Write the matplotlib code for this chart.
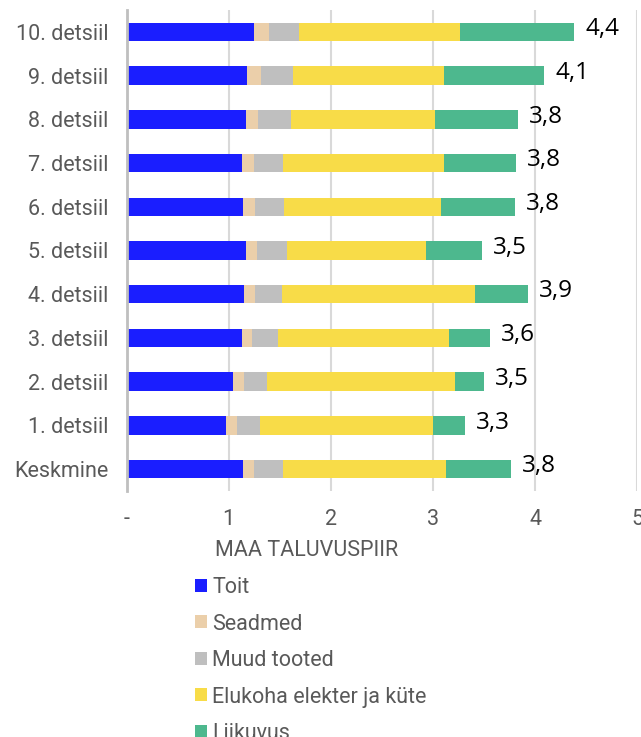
import matplotlib
matplotlib.use("Agg")
import matplotlib.pyplot as plt
import numpy as np

categories = ["Keskmine", "1. detsiil", "2. detsiil", "3. detsiil", "4. detsiil",
              "5. detsiil", "6. detsiil", "7. detsiil", "8. detsiil", "9. detsiil", "10. detsiil"]
toit     = [1.14, 0.97, 1.04, 1.13, 1.15, 1.17, 1.14, 1.13, 1.17, 1.18, 1.25]
seadmed  = [0.11, 0.11, 0.11, 0.10, 0.11, 0.11, 0.12, 0.12, 0.12, 0.14, 0.14]
muud     = [0.28, 0.23, 0.23, 0.25, 0.26, 0.29, 0.28, 0.28, 0.32, 0.31, 0.30]
elukoha  = [1.60, 1.69, 1.84, 1.68, 1.89, 1.36, 1.54, 1.58, 1.41, 1.48, 1.57]
liikuvus = [0.63, 0.31, 0.28, 0.40, 0.52, 0.55, 0.72, 0.70, 0.81, 0.98, 1.12]
total_labels = ["3,8", "3,3", "3,5", "3,6", "3,9", "3,5", "3,8", "3,8", "3,8", "4,1", "4,4"]
series_names = ["Toit", "Seadmed", "Muud tooted", "Elukoha elekter ja küte", "Liikuvus"]
xtick_vals = [0, 1, 2, 3, 4, 5]
xtick_labels = ["-", "1", "2", "3", "4", "5"]
legend_title = "MAA TALUVUSPIIR"

colors = ["#1a1eff", "#ebcfaa", "#bfbfbf", "#f8dc48", "#4db88e"]
series = [toit, seadmed, muud, elukoha, liikuvus]

plt.rcParams['font.family'] = ['Roboto', 'DejaVu Sans']
fig = plt.figure(figsize=(6.41, 7.37), dpi=100)
W, H = 641, 737
ax = fig.add_axes([126.5 / W, 1 - 491 / H, 510.8 / W, 481 / H])

y = np.arange(len(categories))
left = np.zeros(len(categories))
handles = []
for vals, c, name in zip(series, colors, series_names):
    b = ax.barh(y, vals, left=left, height=0.42, color=c, label=name, zorder=3)
    handles.append(b)
    left = left + np.array(vals)

for yi, tot, lab in zip(y, left, total_labels):
    ax.annotate(lab, (tot, yi), xytext=(8, 2), textcoords="offset points",
                ha="left", va="center", fontsize=17.5, family=['Open Sans', 'DejaVu Sans'],
                color="black")

ax.set_xlim(0, 5)
ax.set_ylim(-0.5, len(categories) - 0.5)
ax.set_yticks(y)
ax.set_yticklabels(categories, fontsize=15.5, color="#595959")
ax.set_xticks(xtick_vals)
ax.set_xticklabels(xtick_labels, fontsize=15.5, color="#595959")
ax.tick_params(axis="y", length=0, pad=13)
ax.tick_params(axis="x", length=0, pad=13)
ax.grid(axis="x", color="#d9d9d9", linewidth=1.5, zorder=0)
ax.set_axisbelow(True)
for s in ["top", "right", "bottom"]:
    ax.spines[s].set_visible(False)
ax.spines["left"].set_color("#bfbfbf")
ax.spines["left"].set_linewidth(2)
ax.spines["left"].set_zorder(4)

fig.text(215 / W, 1 - 550 / H, legend_title, fontsize=15.5, color="#595959",
         ha="left", va="center")
leg = fig.legend(handles=handles, labels=series_names, loc="upper left",
                 bbox_to_anchor=(195 / W, 1 - 577 / H), frameon=False,
                 fontsize=15.5, handlelength=0.56, handleheight=0.56,
                 handletextpad=0.25, labelspacing=0.72, borderaxespad=0,
                 borderpad=0)
for t in leg.get_texts():
    t.set_color("#595959")

fig.savefig("out.png", dpi=100)
